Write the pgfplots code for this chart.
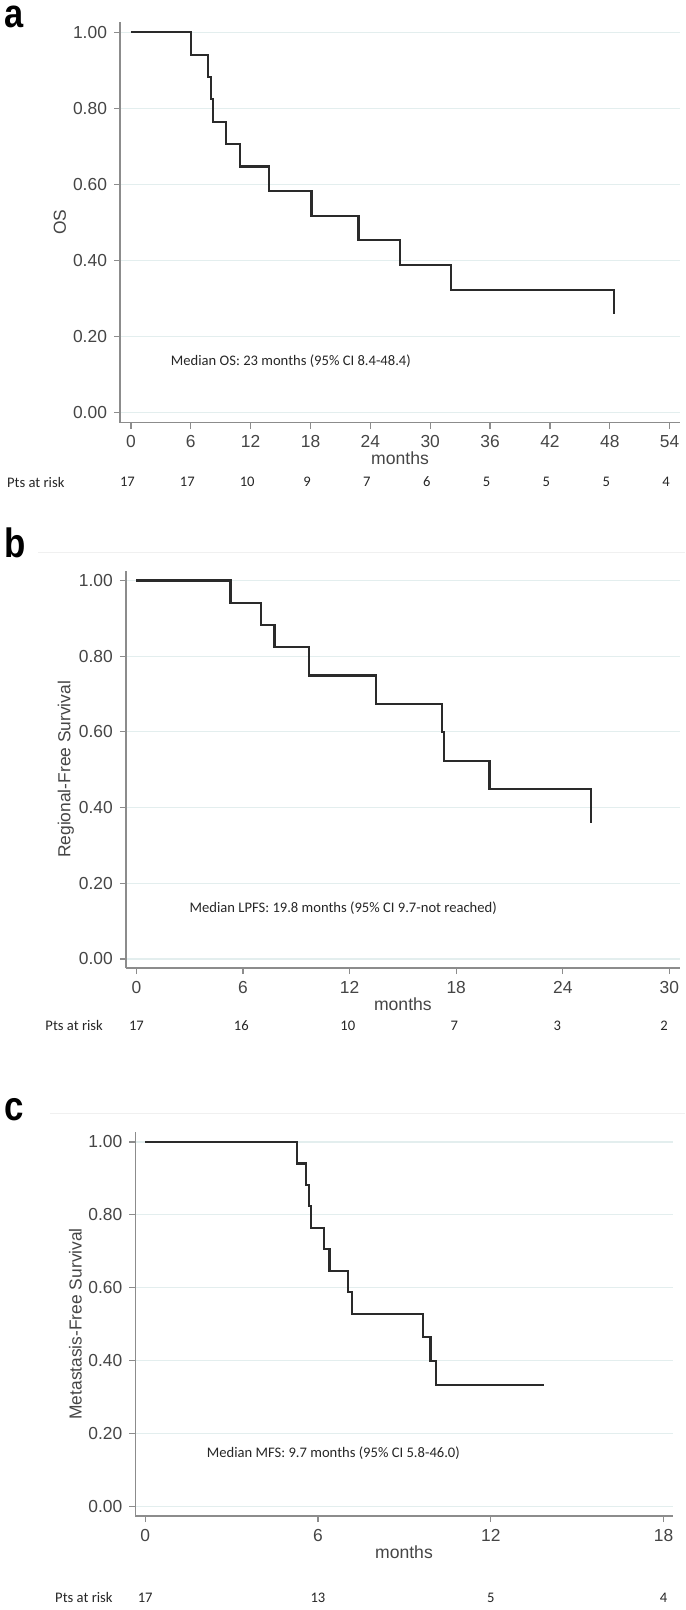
\documentclass[border=0pt]{standalone}
\usepackage{fontspec}
\setmainfont{Liberation Sans}
\newfontfamily\calibri{Carlito}
\usepackage{pgfplots}
\pgfplotsset{compat=1.18}
\definecolor{axgray}{HTML}{8C8C8C}
\definecolor{tickc}{HTML}{454545}
\definecolor{gridc}{HTML}{E3EEEE}
\definecolor{curvec}{HTML}{2A2A2A}
\tikzset{ann/.style={font=\calibri\fontsize{7.3}{8}\selectfont, text=black!85}}
\pgfplotsset{
  kmstyle/.style={
    scale only axis,
    axis x line*=bottom, axis y line*=left,
    axis line style={draw=axgray, line width=0.7pt},
    tick style={draw=axgray, line width=0.6pt},
    tick align=outside, major tick length=3pt,
    ymajorgrids, grid style={draw=gridc, line width=0.6pt},
    ytick={0,0.2,0.4,0.6,0.8,1},
    /pgf/number format/assume math mode=true,
    yticklabel style={/pgf/number format/.cd, fixed, fixed zerofill, precision=2},
    ticklabel style={font=\fontsize{8.7}{9.5}\selectfont, text=tickc},
    every axis x label/.style={at={(axis description cs:0.5,0)}, anchor=center, yshift=-18pt, font=\fontsize{8.8}{9.5}\selectfont, text=tickc},
    every axis y label/.style={at={(axis description cs:0,0.5)}, xshift=-30pt, rotate=90, anchor=center, font=\fontsize{8.7}{9.5}\selectfont, text=tickc},
    clip=false,
  },
  km/.style={const plot, no marks, color=curvec, line width=1.1pt},
}
\begin{document}
\begin{tikzpicture}
\path[use as bounding box] (0,0) rectangle (342.5pt,-805pt);
% panel letters
\node[anchor=base west, inner sep=0pt, font=\bfseries\fontsize{20}{21}\selectfont] at (1.8pt,-13.8pt) {\scalebox{0.86}[1]{a}};
\node[anchor=base west, inner sep=0pt, font=\bfseries\fontsize{20.5}{22}\selectfont] at (1.8pt,-278.5pt) {\scalebox{0.85}[1]{b}};
\node[anchor=base west, inner sep=0pt, font=\bfseries\fontsize{20.5}{22}\selectfont] at (1.8pt,-560pt) {\scalebox{0.85}[1]{c}};
\draw[black!6, line width=0.5pt] (19pt,-276pt) -- (342.5pt,-276pt);
\draw[black!6, line width=0.5pt] (25pt,-556.5pt) -- (342.5pt,-556.5pt);

% ---------- panel a ----------
\begin{axis}[kmstyle, at={(60pt,-10.85pt)}, anchor=north west,
  width=280pt, height=200.5pt,
  xmin=-1.1, xmax=55.04, ymin=-0.027, ymax=1.028,
  xtick={0,6,...,54}, xlabel={months}, ylabel={OS}]
\addplot[km] coordinates {
(0,1) (6.0,0.941) (7.75,0.882) (8.0,0.824) (8.2,0.765) (9.5,0.706)
(10.9,0.647) (13.8,0.582) (18.1,0.517) (22.8,0.453) (27.0,0.388)
(32.1,0.323) (48.4,0.259)};
\node[ann, anchor=west] at (axis cs:3.3,0.134) {Median OS: 23 months (95\% CI 8.4-48.4)};
\node[ann, anchor=west] at (axis cs:-13.13,-0.183) {Pts at risk};
\node[ann] at (axis cs:-0.35,-0.183) {17};
\node[ann] at (axis cs:5.65,-0.183) {17};
\node[ann] at (axis cs:11.65,-0.183) {10};
\node[ann] at (axis cs:17.65,-0.183) {9};
\node[ann] at (axis cs:23.65,-0.183) {7};
\node[ann] at (axis cs:29.65,-0.183) {6};
\node[ann] at (axis cs:35.65,-0.183) {5};
\node[ann] at (axis cs:41.65,-0.183) {5};
\node[ann] at (axis cs:47.65,-0.183) {5};
\node[ann] at (axis cs:53.65,-0.183) {4};
\end{axis}

% ---------- panel b ----------
\begin{axis}[kmstyle, at={(62.9pt,-285.35pt)}, anchor=north west,
  width=277.1pt, height=198.65pt,
  xmin=-0.6, xmax=30.6, ymin=-0.024, ymax=1.026,
  xtick={0,6,...,30}, xlabel={months}, ylabel={Regional-Free Survival}]
\addplot[km] coordinates {
(0,1) (5.29,0.941) (7.03,0.882) (7.77,0.824) (9.71,0.749) (13.47,0.674)
(17.2,0.599) (17.3,0.524) (19.87,0.449) (25.57,0.359)};
\node[ann, anchor=west] at (axis cs:2.6,0.134) {Median LPFS: 19.8 months (95\% CI 9.7-not reached)};
\node[ann, anchor=west] at (axis cs:-5.52,-0.176) {Pts at risk};
\node[ann] at (axis cs:0,-0.176) {17};
\node[ann] at (axis cs:5.9,-0.176) {16};
\node[ann] at (axis cs:11.9,-0.176) {10};
\node[ann] at (axis cs:17.9,-0.176) {7};
\node[ann] at (axis cs:23.7,-0.176) {3};
\node[ann] at (axis cs:29.7,-0.176) {2};
\end{axis}

% ---------- panel c ----------
\begin{axis}[kmstyle, at={(67.7pt,-565.85pt)}, anchor=north west,
  width=268.55pt, height=192.15pt,
  xmin=-0.34, xmax=18.31, ymin=-0.0255, ymax=1.028,
  xtick={0,6,12,18}, xlabel={months}, ylabel={Metastasis-Free Survival}]
\addplot[km] coordinates {
(0,1) (5.27,0.941) (5.58,0.882) (5.68,0.824) (5.77,0.765) (6.2,0.706)
(6.4,0.647) (7.03,0.588) (7.19,0.529) (9.64,0.466) (9.91,0.40)
(10.09,0.333) (13.85,0.333)};
\node[ann, anchor=west] at (axis cs:1.9,0.148) {Median MFS: 9.7 months (95\% CI 5.8-46.0)};
\node[ann, anchor=west] at (axis cs:-3.37,-0.25) {Pts at risk};
\node[ann] at (axis cs:0,-0.25) {17};
\node[ann] at (axis cs:6,-0.25) {13};
\node[ann] at (axis cs:12,-0.25) {5};
\node[ann] at (axis cs:18,-0.25) {4};
\end{axis}
\end{tikzpicture}
\end{document}
